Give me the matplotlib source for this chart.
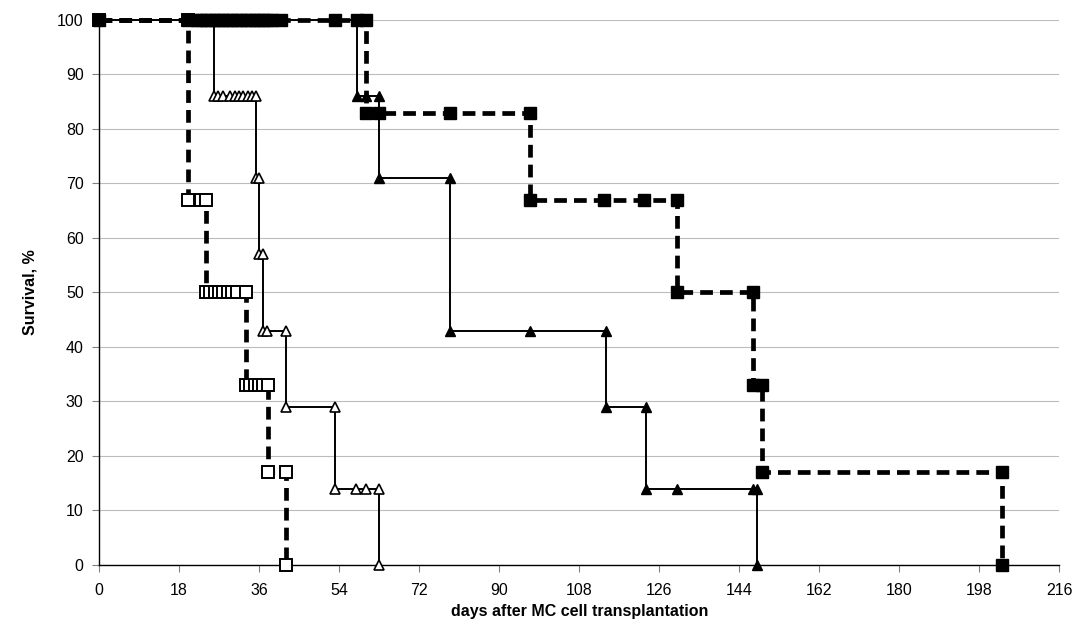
import matplotlib
matplotlib.use("Agg")
import matplotlib.pyplot as plt

plt.rcParams['font.family'] = ['Liberation Sans', 'DejaVu Sans']

# ---- data (day, survival %) as plotted points of each Kaplan-Meier curve ----
open_sq_days = [0, 20, 20, 23, 24, 24, 25, 26, 27, 28, 29, 30, 31, 33,
                33, 34, 35, 36, 37, 38, 38, 42, 42]
open_sq_surv = [100, 100, 67, 67, 67, 50, 50, 50, 50, 50, 50, 50, 50, 50,
                33, 33, 33, 33, 33, 33, 17, 17, 0]

open_tri_days = [0, 25.8, 25.8, 26.8, 27.8, 29.5, 30.5, 31.5, 32.5, 33.5, 34.5, 35.3,
                 35.3, 36.0, 36.0, 36.8, 36.8, 37.9, 42, 42, 53, 53, 57.8, 60, 63, 63]
open_tri_surv = [100, 100, 86, 86, 86, 86, 86, 86, 86, 86, 86, 86,
                 71, 71, 57, 57, 43, 43, 43, 29, 29, 14, 14, 14, 14, 0]

fill_sq_days = [0, 20, 22, 23, 24, 25, 26, 27, 28, 29, 30, 31, 32, 33, 34, 35, 36, 37,
                38, 39, 41, 53, 58, 60, 60, 63, 79, 97, 97, 113.5, 122.5, 130, 130,
                147, 147, 149, 149, 203, 203]
fill_sq_surv = [100, 100, 100, 100, 100, 100, 100, 100, 100, 100, 100, 100, 100, 100,
                100, 100, 100, 100, 100, 100, 100, 100, 100, 100, 83, 83, 83, 83, 67,
                67, 67, 67, 50, 50, 33, 33, 17, 17, 0]

fill_tri_days = [0, 58, 58, 60, 63, 63, 79, 79, 97, 114, 114, 123, 123, 130, 147, 148, 148]
fill_tri_surv = [100, 100, 86, 86, 86, 71, 71, 43, 43, 43, 29, 29, 14, 14, 14, 14, 0]

x_ticks = list(range(0, 217, 18))
y_ticks = list(range(0, 101, 10))

# ---- figure ----
fig = plt.figure(figsize=(10.78, 6.41), dpi=100)
ax = fig.add_axes([0.0918, 0.1186, 0.891, 0.8502])

ax.set_xlim(0, 216)
ax.set_ylim(0, 100)
ax.set_xticks(x_ticks)
ax.set_yticks(y_ticks)
ax.yaxis.grid(True, color='#bcbcbc', linewidth=0.8)
ax.set_axisbelow(True)

for s in ['top', 'right']:
    ax.spines[s].set_visible(False)
for s in ['left', 'bottom']:
    ax.spines[s].set_linewidth(1.0)
ax.tick_params(axis='both', direction='out', length=5, width=0.8,
               colors='#808080', labelcolor='black', labelsize=11.5)
ax.tick_params(axis='x', pad=8)
ax.tick_params(axis='y', pad=6)

dash = (2.7, 1.5)

ax.plot(open_sq_days, open_sq_surv, color='black', linewidth=3.4, linestyle=(0, dash),
        marker='s', markersize=9, markerfacecolor='white', markeredgecolor='black',
        markeredgewidth=1.4, zorder=3, clip_on=False)
ax.plot(open_tri_days, open_tri_surv, color='black', linewidth=1.4,
        marker='^', markersize=7.5, markerfacecolor='white', markeredgecolor='black',
        markeredgewidth=1.2, zorder=4, clip_on=False)
ax.plot(fill_sq_days, fill_sq_surv, color='black', linewidth=3.4, linestyle=(0, dash),
        marker='s', markersize=9, markerfacecolor='black', markeredgecolor='black',
        zorder=5, clip_on=False)
ax.plot(fill_tri_days, fill_tri_surv, color='black', linewidth=1.4,
        marker='^', markersize=7.5, markerfacecolor='black', markeredgecolor='black',
        zorder=6, clip_on=False)

ax.set_xlabel('days after MC cell transplantation', fontsize=11.5, fontweight='bold', labelpad=4)
ax.set_ylabel('Survival, %', fontsize=11.5, fontweight='bold', labelpad=14)

fig.savefig('out.png', dpi=100)
